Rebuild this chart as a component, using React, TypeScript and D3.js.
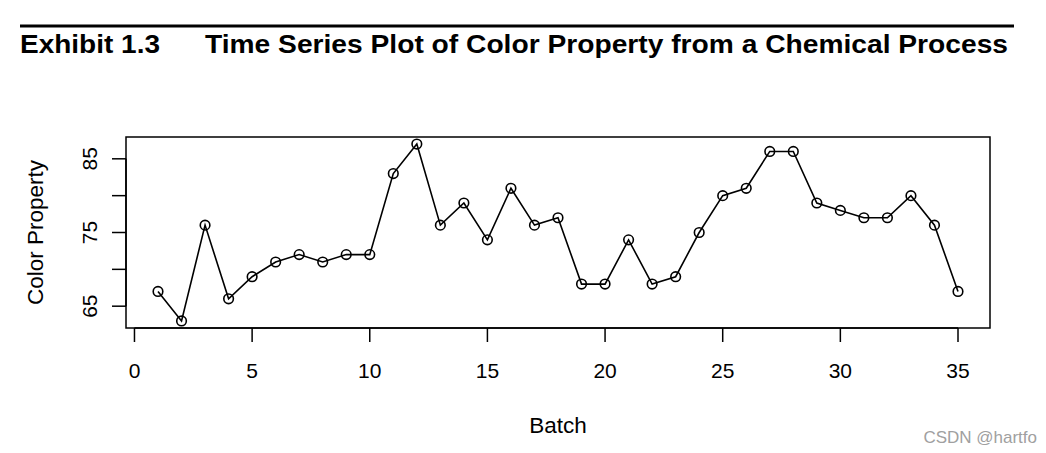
import { useEffect, useRef } from 'react';
import * as d3 from 'd3';

const batches = d3.range(1, 36);
const colorValues = [67, 63, 76, 66, 69, 71, 72, 71, 72, 72, 83, 87, 76, 79, 74, 81, 76, 77, 68, 68, 74, 68, 69, 75, 80, 81, 86, 86, 79, 78, 77, 77, 80, 76, 67];
const xTicks = [0, 5, 10, 15, 20, 25, 30, 35];
const yTicks = [65, 70, 75, 80, 85];
const yLabels = [65, 75, 85];

const W = 1046;
const H = 453;
const FONT = '"Liberation Sans", Arial, sans-serif';

export default function App() {
  const svgRef = useRef<SVGSVGElement>(null);

  useEffect(() => {
    const svg = d3.select(svgRef.current);
    if (!svg.node()) return;
    svg.selectAll('*').remove();

    const box = { left: 126, right: 990, top: 137, bottom: 328 };

    // R style 4% padding around the data range
    const xPad = (35 - 1) * 0.04;
    const yPad = (87 - 63) * 0.04;
    const x = d3.scaleLinear().domain([1 - xPad, 35 + xPad]).range([box.left, box.right]);
    const y = d3.scaleLinear().domain([63 - yPad, 87 + yPad]).range([box.bottom, box.top]);

    // title rule and title
    svg.append('line')
      .attr('x1', 20).attr('x2', 1014)
      .attr('y1', 26).attr('y2', 26)
      .attr('stroke', '#000').attr('stroke-width', 3);

    svg.append('text')
      .attr('x', 20).attr('y', 53)
      .attr('textLength', 140).attr('lengthAdjust', 'spacingAndGlyphs')
      .style('font-family', FONT).style('font-size', '25px').style('font-weight', 'bold')
      .text('Exhibit 1.3');

    svg.append('text')
      .attr('x', 205).attr('y', 53)
      .attr('textLength', 803).attr('lengthAdjust', 'spacingAndGlyphs')
      .style('font-family', FONT).style('font-size', '25px').style('font-weight', 'bold')
      .text('Time Series Plot of Color Property from a Chemical Process');

    // plot box
    svg.append('rect')
      .attr('x', box.left).attr('y', box.top)
      .attr('width', box.right - box.left).attr('height', box.bottom - box.top)
      .attr('fill', 'none').attr('stroke', '#000').attr('stroke-width', 1.5);

    // x axis
    const xAxis = svg.append('g').attr('transform', `translate(0,${box.bottom})`);
    xAxis.append('line')
      .attr('x1', x(0)).attr('x2', x(35))
      .attr('stroke', '#000').attr('stroke-width', 1.5);
    xTicks.forEach(t => {
      xAxis.append('line')
        .attr('x1', x(t)).attr('x2', x(t))
        .attr('y1', 0).attr('y2', 14)
        .attr('stroke', '#000').attr('stroke-width', 1.5);
      xAxis.append('text')
        .attr('x', x(t)).attr('y', 50)
        .attr('text-anchor', 'middle')
        .style('font-family', FONT).style('font-size', '21px')
        .text(String(t));
    });

    // y axis
    const yAxis = svg.append('g').attr('transform', `translate(${box.left},0)`);
    yAxis.append('line')
      .attr('y1', y(65)).attr('y2', y(85))
      .attr('stroke', '#000').attr('stroke-width', 1.5);
    yTicks.forEach(t => {
      yAxis.append('line')
        .attr('y1', y(t)).attr('y2', y(t))
        .attr('x1', 0).attr('x2', -14)
        .attr('stroke', '#000').attr('stroke-width', 1.5);
    });
    yLabels.forEach(t => {
      yAxis.append('text')
        .attr('transform', `translate(-29,${y(t)}) rotate(-90)`)
        .attr('text-anchor', 'middle')
        .style('font-family', FONT).style('font-size', '21px')
        .text(String(t));
    });

    // axis titles
    svg.append('text')
      .attr('x', 558).attr('y', 433)
      .attr('text-anchor', 'middle')
      .style('font-family', FONT).style('font-size', '22.5px')
      .text('Batch');

    svg.append('text')
      .attr('transform', `translate(43,${(box.top + box.bottom) / 2}) rotate(-90)`)
      .attr('text-anchor', 'middle')
      .style('font-family', FONT).style('font-size', '22.5px')
      .text('Color Property');

    // series: line through the centres of hollow circles (type = "o")
    const line = d3.line<number>()
      .x((_, i) => x(batches[i]))
      .y(d => y(d));

    svg.append('path')
      .datum(colorValues)
      .attr('d', line)
      .attr('fill', 'none')
      .attr('stroke', '#000')
      .attr('stroke-width', 1.6);

    svg.append('g')
      .selectAll('circle')
      .data(colorValues)
      .enter()
      .append('circle')
      .attr('cx', (_, i) => x(batches[i]))
      .attr('cy', d => y(d))
      .attr('r', 4.8)
      .attr('fill', 'none')
      .attr('stroke', '#000')
      .attr('stroke-width', 1.6);

    // watermark
    svg.append('text')
      .attr('x', 1037).attr('y', 443)
      .attr('text-anchor', 'end')
      .style('font-family', FONT).style('font-size', '17px')
      .style('fill', '#a0a0a0')
      .text('CSDN @hartfo');
  }, []);

  return (
    <svg
      ref={svgRef}
      width={W}
      height={H}
      style={{ position: 'absolute', left: 0, top: 0, background: '#fff' }}
    />
  );
}
